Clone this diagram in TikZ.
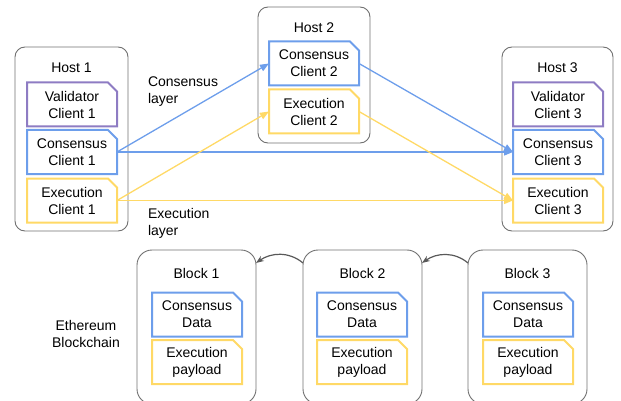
\documentclass[tikz,border=0pt]{standalone}
\usepackage{fontspec}
\setmainfont{Liberation Sans}
\usetikzlibrary{shapes.misc,arrows.meta}
\definecolor{cblue}{HTML}{6D9EEB}
\definecolor{cyellow}{HTML}{FFD966}
\definecolor{cpurple}{HTML}{8E7CC3}
\definecolor{cgray}{HTML}{707070}
\definecolor{carrow}{HTML}{595959}
\begin{document}
\begin{tikzpicture}[x=1pt,y=1pt,
  every node/.style={font=\fontsize{14}{17}\selectfont, align=center, inner sep=0pt, outer sep=0pt},
  outerbox/.style={draw=cgray, line width=0.9pt, rounded corners=10pt},
  blockbox/.style={draw=cgray, line width=0.9pt, rounded corners=15pt, minimum width=119pt, minimum height=154pt},
  client/.style={chamfered rectangle, chamfered rectangle corners=north east,
    chamfered rectangle xsep=4.5pt, chamfered rectangle ysep=4.5pt,
    line width=2pt, minimum width=90pt, minimum height=44pt, fill=white},
  valbox/.style={client, draw=cpurple},
  conbox/.style={client, draw=cblue},
  exebox/.style={client, draw=cyellow},
  bluearrow/.style={draw=cblue, line width=1.3pt, -{Triangle[length=9pt,width=7pt]}},
  yellowarrow/.style={draw=cyellow, line width=1.3pt, -{Triangle[length=9pt,width=7pt]}},
  chainarrow/.style={draw=carrow, line width=1.2pt, -{Stealth[length=8pt,width=6pt]}},
  sidelabel/.style={align=left, anchor=west}
]
\useasboundingbox (0,0) rectangle (621,-401);
\clip (0,0) rectangle (621,-401);

% Hosts
\node[outerbox, minimum width=113pt, minimum height=184pt] (h1) at (71.5,-139) {};
\node (h1t) at (71.5,-67.5) {Host 1};
\node[valbox] (vc1) at (72,-104.5) {Validator\\Client 1};
\node[conbox] (cc1) at (72,-152) {Consensus\\Client 1};
\node[exebox] (ec1) at (72,-200.5) {Execution\\Client 1};

\node[outerbox, minimum width=112pt, minimum height=136pt] (h2) at (314,-75) {};
\node (h2t) at (314,-27.5) {Host 2};
\node[conbox] (cc2) at (314,-63.5) {Consensus\\Client 2};
\node[exebox] (ec2) at (314,-111.5) {Execution\\Client 2};

\node[outerbox, minimum width=111pt, minimum height=184pt] (h3) at (557.5,-139) {};
\node (h3t) at (557.5,-67.5) {Host 3};
\node[valbox] (vc3) at (558,-104.5) {Validator\\Client 3};
\node[conbox] (cc3) at (558,-152) {Consensus\\Client 3};
\node[exebox] (ec3) at (558,-200.5) {Execution\\Client 3};

% Layer labels
\node[sidelabel] (cl) at (148,-92) {Consensus\\layer};
\node[sidelabel] (el) at (148,-223) {Execution\\layer};
\node (eb) at (86,-333.5) {Ethereum\\Blockchain};

% Connectors between hosts
\draw[bluearrow] (cc1.east) -- (cc2.west);
\draw[bluearrow] (cc1.east) -- (cc3.west);
\draw[bluearrow] (cc2.east) -- (cc3.west);
\draw[yellowarrow] (ec1.east) -- (ec2.west);
\draw[yellowarrow] (ec1.east) -- (ec3.west);
\draw[yellowarrow] (ec2.east) -- (ec3.west);

% Blocks
\node[blockbox] (b1) at (196.5,-327) {};
\node (b1t) at (196.5,-273) {Block 1};
\node[conbox] (cd1) at (197,-314.5) {Consensus\\Data};
\node[exebox] (ep1) at (197,-362) {Execution\\payload};

\node[blockbox] (b2) at (362.5,-327) {};
\node (b2t) at (362.5,-273) {Block 2};
\node[conbox] (cd2) at (362,-314.5) {Consensus\\Data};
\node[exebox] (ep2) at (362,-362) {Execution\\payload};

\node[blockbox] (b3) at (527.5,-327) {};
\node (b3t) at (527.5,-273) {Block 3};
\node[conbox] (cd3) at (528,-314.5) {Consensus\\Data};
\node[exebox] (ep3) at (528,-362) {Execution\\payload};

% Chain arrows
\draw[chainarrow] ([yshift=-13pt]b2.north west) to[out=140,in=35] ([yshift=-13pt]b1.north east);
\draw[chainarrow] ([yshift=-13pt]b3.north west) to[out=140,in=35] ([yshift=-13pt]b2.north east);
\end{tikzpicture}
\end{document}
